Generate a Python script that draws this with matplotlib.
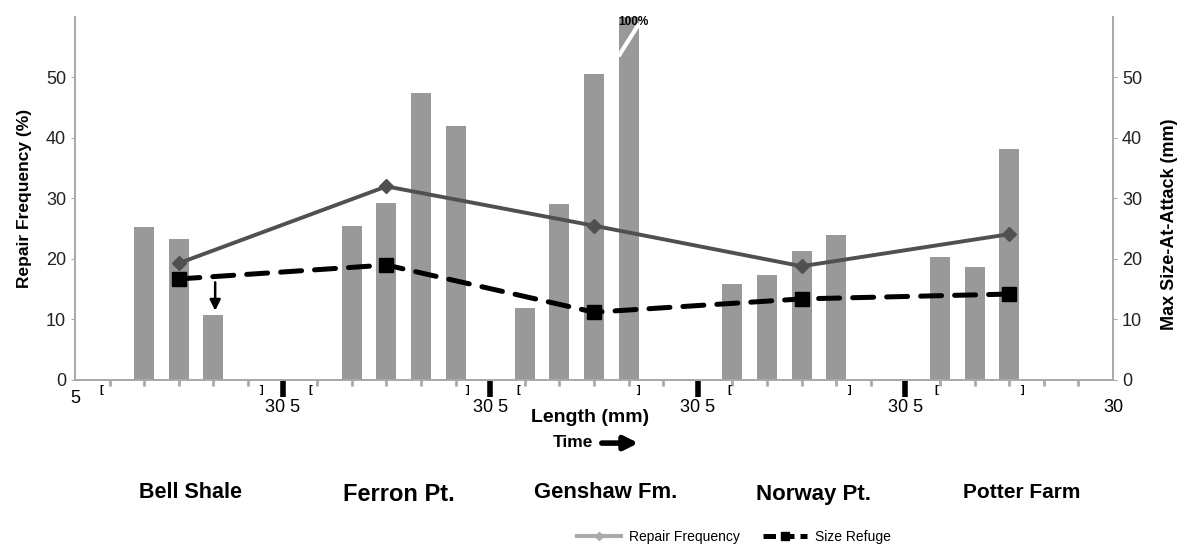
import numpy as np
import matplotlib.pyplot as plt
from matplotlib.lines import Line2D

plt.rcParams['font.family'] = ['Liberation Sans', 'DejaVu Sans']

# data
sites = ['Bell Shale', 'Ferron Pt.', 'Genshaw Fm.', 'Norway Pt.', 'Potter Farm']
bar_pos = [2, 3, 4, 8, 9, 10, 11, 13, 14, 15, 16, 19, 20, 21, 22, 25, 26, 27]
bar_vals = [25.3, 23.3, 10.7, 25.4, 29.2, 47.5, 41.9, 11.9, 29.1, 50.5, 100,
            15.8, 17.3, 21.4, 23.9, 20.3, 18.6, 38.1]
site_pos = [3, 9, 15, 21, 27]
repair_freq = [19.3, 32.0, 25.5, 18.8, 24.1]
size_refuge = [16.7, 19.0, 11.2, 13.4, 14.2]
bracket_open = [0.75, 6.8, 12.8, 18.9, 24.9]
bracket_close = [5.4, 11.35, 16.3, 22.4, 27.4]
group_edges = [6, 12, 18, 24]

grey_spine = '#a8a8a8'

fig = plt.figure(figsize=(11.8, 5.45), dpi=100)
ax = fig.add_axes([0.0636, 0.3028, 0.9432 - 0.0636, 0.9688 - 0.3028])
ax2 = ax.twinx()

ax.bar(bar_pos, bar_vals, width=0.58, color='#999999', zorder=1)
ax.set_xlim(0, 30)
ax.set_ylim(0, 60)
ax2.set_ylim(0, 60)

# broken bar marker for the 100% bar
ax.plot([15.74, 16.27], [53.8, 58.6], color='white', lw=3, zorder=2)
ax.text(16.13, 59.2, '100%', fontsize=8.5, fontweight='bold', ha='center', va='center', zorder=3)

# lines
ax2.plot(site_pos, repair_freq, '-', color='#505050', lw=2.8, marker='D', ms=7.5, zorder=4)
ax2.plot(site_pos, size_refuge, color='black', lw=3.6, dashes=(4.2, 2.6),
         dash_capstyle='round', marker='s', ms=10, zorder=5)
ax2.annotate('', xy=(4.05, 11.0), xytext=(4.05, 16.6),
             arrowprops=dict(arrowstyle='-|>', color='black', lw=1.8, mutation_scale=16))

for a in (ax, ax2):
    a.spines['top'].set_visible(False)
    for s in ('left', 'right', 'bottom'):
        a.spines[s].set_color(grey_spine)
        a.spines[s].set_linewidth(1.2)

ax.set_yticks(range(0, 60, 10))
ax2.set_yticks(range(0, 60, 10))
ax.tick_params(axis='y', colors=grey_spine, labelcolor='#222222', labelsize=13, length=3)
ax2.tick_params(axis='y', colors=grey_spine, labelcolor='#222222', labelsize=13, length=3)

# x ticks: small grey at every unit, thick black at group edges
ax.set_xticks([i for i in range(1, 30) if i not in group_edges], minor=True)
ax.set_xticks(group_edges)
ax.set_xticklabels([])
ax.tick_params(axis='x', which='minor', colors=grey_spine, length=4, width=2)
ax.tick_params(axis='x', which='major', colors='black', length=12, width=4)

xlab = ('data', 'axes fraction')
ax.annotate('5', xy=(0, 0), xycoords=xlab, xytext=(0, -13), textcoords='offset points',
            ha='center', va='center', fontsize=13)
for e in group_edges:
    ax.annotate('30 5', xy=(e, 0), xycoords=xlab, xytext=(0, -20), textcoords='offset points',
                ha='center', va='center', fontsize=13)
ax.annotate('30', xy=(30, 0), xycoords=xlab, xytext=(0, -20), textcoords='offset points',
            ha='center', va='center', fontsize=13)
for b in bracket_open:
    ax.annotate('[', xy=(b, 0), xycoords=xlab, xytext=(0, -7), textcoords='offset points',
                ha='center', va='center', fontsize=8, fontweight='bold')
for b in bracket_close:
    ax.annotate(']', xy=(b, 0), xycoords=xlab, xytext=(0, -7), textcoords='offset points',
                ha='center', va='center', fontsize=8, fontweight='bold')

ax.annotate('Length (mm)', xy=(14.9, 0), xycoords=xlab, xytext=(0, -27), textcoords='offset points',
            ha='center', va='center', fontsize=14, fontweight='bold')
ax.annotate('Time', xy=(14.4, 0), xycoords=xlab, xytext=(0, -45), textcoords='offset points',
            ha='center', va='center', fontsize=12.5, fontweight='bold')
fig.add_artist(plt.matplotlib.patches.FancyArrowPatch(
    (0.510, 0.187), (0.541, 0.187), transform=fig.transFigure,
    arrowstyle='-|>', color='black', lw=4, mutation_scale=20, shrinkA=0, shrinkB=0))

# site names
site_sizes = [15.5, 17, 15.8, 16, 15]
site_y = [0.097, 0.092, 0.097, 0.092, 0.097]
for p, s, fs, yy in zip(site_pos, sites, site_sizes, site_y):
    ax.annotate(s, xy=(p + 0.35, yy), xycoords=('data', 'figure fraction'),
                ha='center', va='center', fontsize=fs, fontweight='bold', annotation_clip=False)

ax.set_ylabel('Repair Frequency (%)', fontsize=12.5, fontweight='bold')
ax.yaxis.set_label_coords(-0.041, 0.5)
ax2.set_ylabel('Max Size-At-Attack (mm)', fontsize=13, fontweight='bold')
ax2.yaxis.set_label_coords(1.046, 0.43)

handles = [Line2D([], [], color='#aaaaaa', lw=3, marker='D', ms=4),
           Line2D([], [], color='black', lw=3.6, dashes=(2.5, 1.2), marker='s', ms=6)]
fig.legend(handles, ['Repair Frequency', 'Size Refuge'], loc='center', bbox_to_anchor=(0.622, 0.015),
           ncol=2, frameon=False, fontsize=10, handlelength=3.2, columnspacing=1.6, handletextpad=0.6)

plt.savefig('out.png', dpi=100)
